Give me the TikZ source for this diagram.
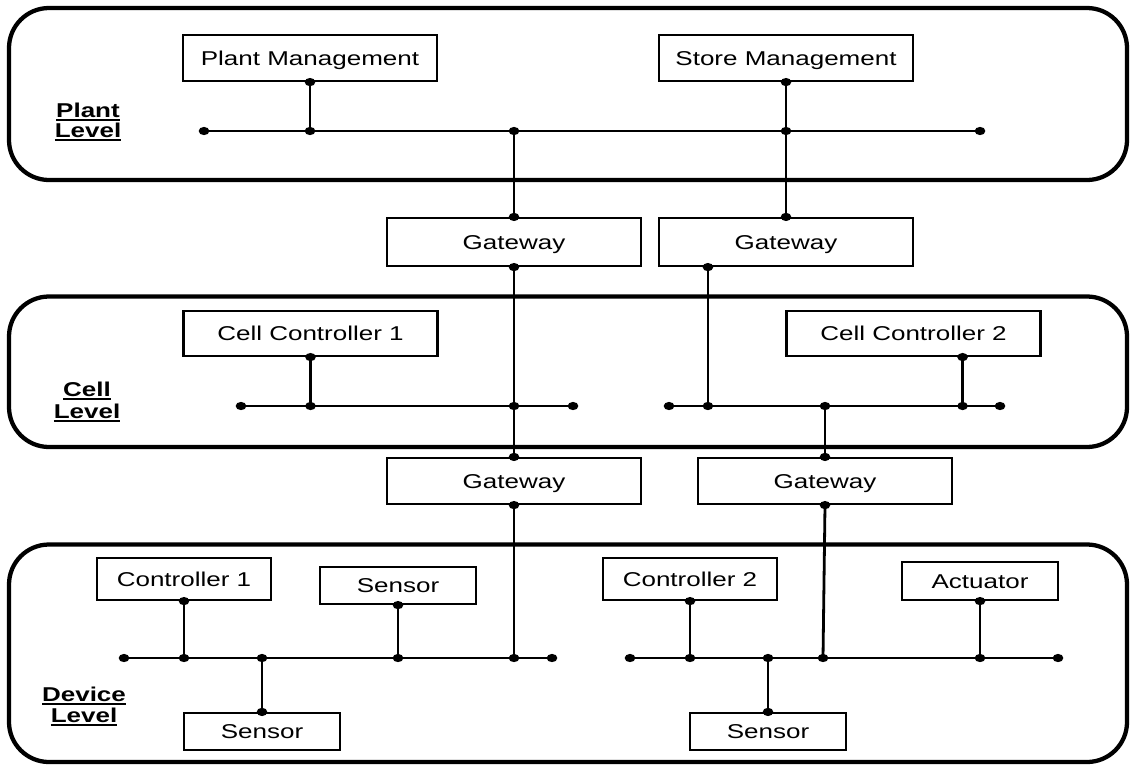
\documentclass[tikz,border=0pt]{standalone}
\usepackage{fontspec}
\setmainfont{Liberation Sans}[FakeStretch=1.3]
\usetikzlibrary{calc}
% underlined level caption with a thick rule
\newcommand{\lvlul}[1]{\setbox0\hbox{#1}\rlap{\rule[-3pt]{\wd0}{1.6pt}}\box0}
\begin{document}
\begin{tikzpicture}[x=0.75pt,y=-0.75pt,
  frame/.style={draw, line width=3.2pt, rounded corners=30pt},
  unit/.style={draw, line width=1.6pt, inner sep=0pt, text height=10.7pt, text depth=0pt,
               font=\fontsize{15}{18}\selectfont},
  wide/.style={unit, minimum width=190.5pt, minimum height=34.5pt},
  gate/.style={unit, minimum width=190.5pt, minimum height=36pt},
  mid/.style={unit, minimum width=130.5pt, minimum height=31.5pt},
  small/.style={unit, minimum width=117pt, minimum height=27.75pt},
  wire/.style={line width=2.1pt},
  lvl/.style={font=\fontsize{15}{18}\selectfont\bfseries, anchor=base, inner sep=0pt}
]
\useasboundingbox (0,0) rectangle (1130,764);

% level frames
\draw[frame] (9,8) rectangle (1127,180);
\draw[frame] (9,296.5) rectangle (1127,447);
\draw[frame] (9,544.5) rectangle (1127,762);

% level captions
\node[lvl] (plantA) at (88,117) {\lvlul{Plant}};
\node[lvl] (plantB) at (88,137) {\lvlul{Level}};
\node[lvl] (cellA) at (87,396) {\lvlul{Cell}};
\node[lvl] (cellB) at (87,418) {\lvlul{Level}};
\node[lvl] (devA) at (84,701) {\lvlul{Device}};
\node[lvl] (devB) at (84,722) {\lvlul{Level}};

% stations
\node[wide] (pm) at (310,58) {Plant Management};
\node[wide] (sm) at (786,58) {Store Management};
\node[gate] (gw1) at (514,242) {Gateway};
\node[gate] (gw2) at (786,242) {Gateway};
\node[wide, minimum height=33.75pt] (cc1) at (310.5,333.5) {Cell Controller 1};
\node[wide, minimum height=33.75pt] (cc2) at (913.5,333.5) {Cell Controller 2};
\node[wide] (gw3) at (514,481) {Gateway};
\node[wide] (gw4) at (825,481) {Gateway};
\node[mid] (c1) at (184,579) {Controller 1};
\node[small] (s1) at (398,585.5) {Sensor};
\node[small] (sb1) at (262,731.5) {Sensor};
\node[mid] (c2) at (690,579) {Controller 2};
\node[small, minimum height=28.5pt] (act) at (980,581) {Actuator};
\node[small] (sb2) at (768,731.5) {Sensor};

% bus ends
\coordinate (pbL) at (204,131);  \coordinate (pbR) at (980,131);
\coordinate (cbL1) at (241,406); \coordinate (cbL2) at (573,406);
\coordinate (cbR1) at (669,406); \coordinate (cbR2) at (1000,406);
\coordinate (dbL1) at (124,658); \coordinate (dbL2) at (552,658);
\coordinate (dbR1) at (630,658); \coordinate (dbR2) at (1058,658);

% off-centre attachment points
\coordinate (g2b) at ($(gw2.south west)+(50,0)$);
\coordinate (cc2b) at ($(cc2.south east)+(-79,0)$);
\coordinate (g4j) at ($(gw4.south |- dbR1)+(-2,0)$);

% joints on the buses
\coordinate (jpm) at (pm.south |- pbL);
\coordinate (jsm) at (sm.south |- pbL);
\coordinate (jg1) at (gw1.north |- pbL);
\coordinate (jc1) at (cc1.south |- cbL1);
\coordinate (jg1c) at (gw1.south |- cbL1);
\coordinate (jg2) at (g2b |- cbR1);
\coordinate (jg4) at (gw4.north |- cbR1);
\coordinate (jc2) at (cc2b |- cbR1);
\coordinate (jd1) at (c1.south |- dbL1);
\coordinate (jsb1) at (sb1.north |- dbL1);
\coordinate (js1) at (s1.south |- dbL1);
\coordinate (jg3) at (gw3.south |- dbL1);
\coordinate (jd2) at (c2.south |- dbR1);
\coordinate (jsb2) at (sb2.north |- dbR1);
\coordinate (jact) at (act.south |- dbR1);

% buses
\draw[wire] (pbL) -- (pbR);
\draw[wire] (cbL1) -- (cbL2);
\draw[wire] (cbR1) -- (cbR2);
\draw[wire] (dbL1) -- (dbL2);
\draw[wire] (dbR1) -- (dbR2);

% drops
\draw[wire] (pm.south) -- (jpm);
\draw[wire] (sm.south) -- (gw2.north);
\draw[wire] (gw1.north) -- (jg1);
\draw[wire] (gw1.south) -- (gw3.north);
\draw[wire] (g2b) -- (jg2);
\draw[wire] (cc1.south) -- (jc1);
\draw[wire] (cc2b) -- (jc2);
\draw[wire] (jg4) -- (gw4.north);
\draw[wire] (gw3.south) -- (jg3);
\draw[wire] (gw4.south) -- (g4j);
\draw[wire] (c1.south) -- (jd1);
\draw[wire] (s1.south) -- (js1);
\draw[wire] (jsb1) -- (sb1.north);
\draw[wire] (c2.south) -- (jd2);
\draw[wire] (act.south) -- (jact);
\draw[wire] (jsb2) -- (sb2.north);

% connection dots
\foreach \p in {pbL,pbR,cbL1,cbL2,cbR1,cbR2,dbL1,dbL2,dbR1,dbR2,
                pm.south,sm.south,jpm,jsm,jg1,gw1.north,gw2.north,gw1.south,g2b,
                jc1,jg1c,jg2,jg4,jc2,cc1.south,cc2b,gw3.north,gw4.north,gw3.south,gw4.south,g4j,
                jd1,jsb1,js1,jg3,jd2,jsb2,jact,c1.south,s1.south,sb1.north,c2.south,act.south,sb2.north}
  \fill (\p) ellipse [x radius=4pt, y radius=3.1pt];
\end{tikzpicture}
\end{document}
